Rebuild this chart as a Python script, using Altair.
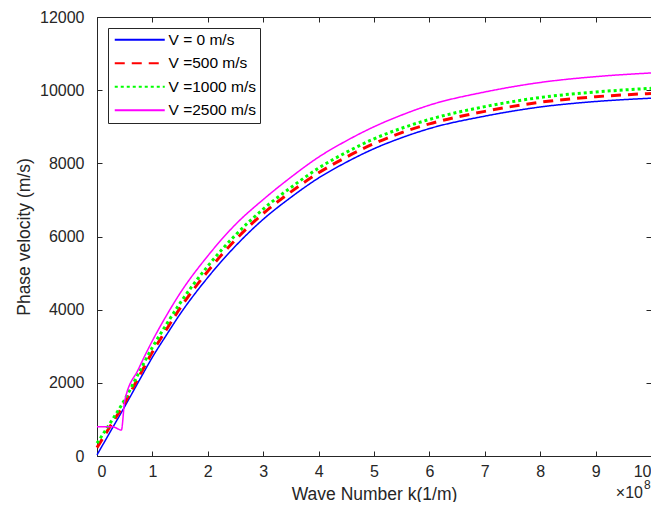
import altair as alt
import pandas as pd

# ---- data ----
k_main = [0, 0.25, 0.5, 0.75, 1, 1.25, 1.5, 2, 2.5, 3, 3.5, 4, 4.5, 5, 5.5, 6, 7, 8, 9, 10]
v_0 = [30, 690, 1350, 2030, 2700, 3300, 3880, 4880, 5740, 6470, 7070, 7600, 8030, 8400, 8700, 8950, 9290, 9540, 9690, 9780]
v_500 = [230, 840, 1450, 2150, 2840, 3450, 4040, 5050, 5910, 6630, 7220, 7740, 8170, 8540, 8840, 9080, 9420, 9670, 9820, 9910]
v_1000 = [350, 930, 1540, 2260, 2970, 3590, 4180, 5190, 6040, 6750, 7340, 7870, 8300, 8670, 8960, 9200, 9550, 9800, 9950, 10050]
k_2500 = [0, 0.1, 0.2, 0.28, 0.44, 0.5, 0.75, 1, 1.25, 1.5, 2, 2.5, 3, 3.5, 4, 4.5, 5, 5.5, 6, 7, 8, 9, 10]
v_2500 = [800, 800, 800, 800, 710, 1500, 2380, 3150, 3830, 4450, 5470, 6330, 7010, 7620, 8170, 8615, 9000, 9320, 9590, 9950, 10210, 10370, 10470]

series_names = ["V = 0 m/s", "V =500 m/s", "V =1000 m/s", "V =2500 m/s"]
x_ticks = [0, 1, 2, 3, 4, 5, 6, 7, 8, 9, 10]
y_ticks = [0, 2000, 4000, 6000, 8000, 10000, 12000]

# ---- styles ----
colors = ["#0000ff", "#ff0000", "#00ff00", "#ff00ff"]
dashes = [[1, 0], [10, 7], [3, 3], [1, 0]]
FONT = "Liberation Sans"
AX = "#262626"

rows = []
for name, ks, vs in zip(series_names, [k_main, k_main, k_main, k_2500], [v_0, v_500, v_1000, v_2500]):
    for k, v in zip(ks, vs):
        rows.append({"k": k, "v": v, "series": name})
df = pd.DataFrame(rows)

xscale = alt.Scale(domain=[0, 10], nice=False, zero=False)
yscale = alt.Scale(domain=[0, 12000], nice=False)

thick = ["V =500 m/s", "V =1000 m/s"]

lines = alt.Chart(df).mark_line(interpolate="monotone").encode(
    x=alt.X("k:Q", scale=xscale,
            axis=alt.Axis(orient="bottom", values=x_ticks, title="Wave Number k(1/m)",
                          ticks=False, tickSize=0, domain=False, grid=False,
                          labelPadding=7, titlePadding=6, labelFontSize=16, titleFontSize=17.5,
                          labelColor=AX, titleColor=AX, titleFontWeight="normal",
                          labelFont=FONT, titleFont=FONT)),
    y=alt.Y("v:Q", scale=yscale,
            axis=alt.Axis(orient="left", values=y_ticks, format="d", title="Phase velocity (m/s)",
                          ticks=False, tickSize=0, domain=False, grid=False,
                          labelPadding=13, titlePadding=6, labelFontSize=16, titleFontSize=17.5,
                          labelColor=AX, titleColor=AX, titleFontWeight="normal",
                          labelFont=FONT, titleFont=FONT)),
    color=alt.Color("series:N", scale=alt.Scale(domain=series_names, range=colors), title=None),
    strokeDash=alt.StrokeDash("series:N", scale=alt.Scale(domain=series_names, range=dashes), title=None),
    strokeWidth=alt.condition(alt.FieldOneOfPredicate(field="series", oneOf=thick), alt.value(3), alt.value(1.5)),
)

tick_axis = dict(tickSize=5, ticks=True, labels=False, domain=False, grid=False, title=None,
                 tickColor=AX, offset=-5)

ticks_bl = alt.Chart(df).mark_point(opacity=0).encode(
    x=alt.X("k:Q", scale=xscale, axis=alt.Axis(orient="bottom", values=x_ticks, **tick_axis)),
    y=alt.Y("v:Q", scale=yscale, axis=alt.Axis(orient="left", values=y_ticks, **tick_axis)),
)
ticks_tr = alt.Chart(df).mark_point(opacity=0).encode(
    x=alt.X("k:Q", scale=xscale, axis=alt.Axis(orient="top", values=x_ticks, **tick_axis)),
    y=alt.Y("v:Q", scale=yscale, axis=alt.Axis(orient="right", values=y_ticks, **tick_axis)),
)

exp_df = pd.DataFrame({"t": ["\u00d710"], "e": ["8"]})
exp_base = alt.Chart(exp_df).mark_text(align="right", baseline="middle", fontSize=16, font=FONT,
                                       color=AX, dx=-8, dy=37).encode(
    x=alt.XDatum(10, axis=None), y=alt.YDatum(0, axis=None), text="t:N")
exp_pow = alt.Chart(exp_df).mark_text(align="left", baseline="middle", fontSize=12, font=FONT,
                                      color=AX, dx=-7, dy=29).encode(
    x=alt.XDatum(10, axis=None), y=alt.YDatum(0, axis=None), text="e:N")

chart = alt.layer(lines, ticks_bl, ticks_tr, exp_base, exp_pow).resolve_axis(
    x="independent", y="independent"
).properties(
    width=554, height=439,
    autosize=alt.AutoSizeParams(type="none"),
    padding={"left": 89, "top": 9, "right": 0, "bottom": 46},
).configure_view(
    stroke=AX, strokeWidth=1
).configure_legend(
    orient="top-left", offset=11, padding=4, rowPadding=6.5, labelFontSize=15.5, labelFont=FONT,
    labelColor="#000000", symbolType="M-1,0H9", symbolSize=100, labelOffset=41,
    strokeColor=AX, fillColor="white", cornerRadius=0, symbolStrokeWidth=2.2
)

chart.save("out.html", embed_options={"renderer": "svg", "actions": False})
